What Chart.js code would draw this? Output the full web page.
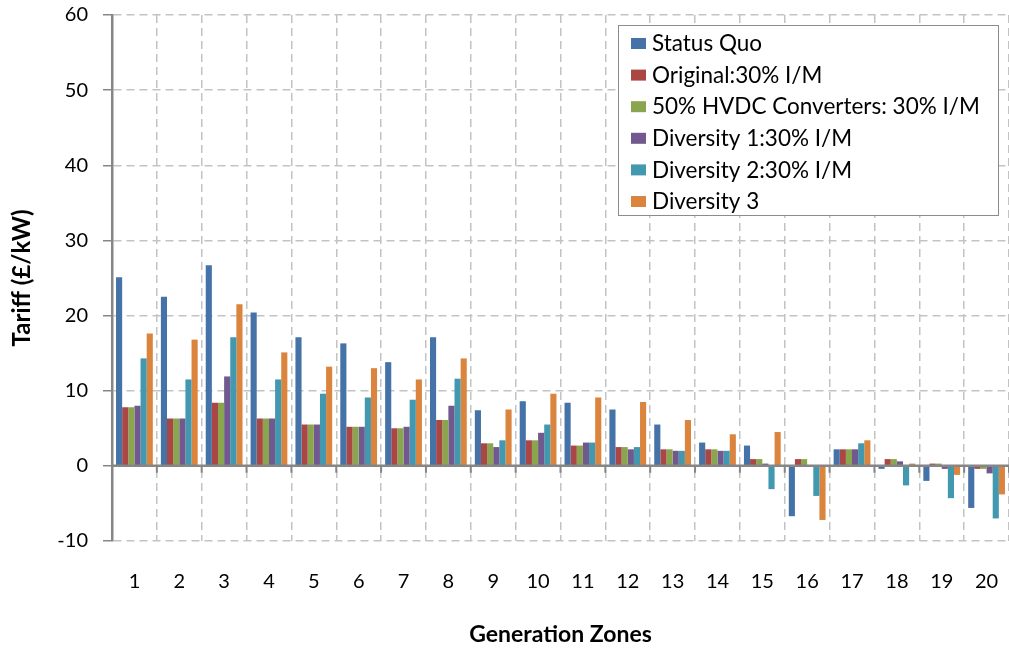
<!DOCTYPE html>
<html>
<head>
<meta charset="utf-8">
<script src="https://cdn.jsdelivr.net/npm/chart.js@4.4.1/dist/chart.umd.min.js"></script>
<style>
  body { margin: 0; background: #fff; }
  canvas { display: block; }
</style>
</head>
<body>
<canvas id="tariffChart" width="1009" height="648"></canvas>
<script>
// ------
// data
// ------
const zones = ['1', '2', '3', '4', '5', '6', '7', '8', '9', '10',
  '11', '12', '13', '14', '15', '16', '17', '18', '19', '20'];
const statusQuo = [25.1, 22.5, 26.7, 20.4, 17.1, 16.3, 13.8, 17.1, 7.4, 8.6, 8.4, 7.5, 5.5, 3.1, 2.7, -6.7, 2.2, -0.4, -2.0, -5.6];
const original = [7.8, 6.3, 8.4, 6.3, 5.5, 5.2, 5.0, 6.1, 3.0, 3.4, 2.7, 2.5, 2.2, 2.2, 0.9, 0.9, 2.2, 0.9, 0.3, -0.4];
const hvdc50 = [7.8, 6.3, 8.4, 6.3, 5.5, 5.2, 5.0, 6.1, 3.0, 3.4, 2.7, 2.5, 2.2, 2.2, 0.9, 0.9, 2.2, 0.9, 0.3, -0.4];
const diversity1 = [8.0, 6.3, 11.9, 6.3, 5.5, 5.2, 5.2, 8.0, 2.5, 4.4, 3.1, 2.2, 2.0, 2.0, 0.3, 0, 2.2, 0.6, -0.4, -1.0];
const diversity2 = [14.3, 11.5, 17.1, 11.5, 9.6, 9.1, 8.8, 11.6, 3.4, 5.5, 3.1, 2.5, 2.0, 2.0, -3.1, -4.0, 3.0, -2.6, -4.3, -7.0];
const diversity3 = [17.6, 16.8, 21.5, 15.1, 13.2, 13.0, 11.5, 14.3, 7.5, 9.6, 9.1, 8.5, 6.1, 4.2, 4.5, -7.2, 3.4, 0.3, -1.2, -3.8];

const FONT = 'Lato, "Liberation Sans", sans-serif';
const AXIS_GREY = '#868686';

// zero line + small ticks under it, drawn over the bars like excel does
const zeroLine = {
  id: 'zeroLine',
  afterDatasetsDraw(chart) {
    const { ctx, chartArea, scales } = chart;
    const y0 = scales.y.getPixelForValue(0);
    ctx.save();
    ctx.strokeStyle = AXIS_GREY;
    ctx.lineWidth = 2.5;
    ctx.beginPath();
    ctx.moveTo(chartArea.left, y0);
    ctx.lineTo(chartArea.right, y0);
    ctx.stroke();
    ctx.lineWidth = 2;
    ctx.beginPath();
    for (let i = 0; i < zones.length; i++) {
      const x = (scales.x.getPixelForValue(i) + scales.x.getPixelForValue(i + 1)) / 2;
      ctx.moveTo(x, y0);
      ctx.lineTo(x, y0 + 7);
    }
    ctx.stroke();
    ctx.restore();
  }
};

// boxed legend inside the plot, top right
const boxLegend = {
  id: 'boxLegend',
  afterDraw(chart) {
    const { ctx, chartArea } = chart;
    const w = 380, h = 190;
    const left = chartArea.right - 11 - w;
    const top = chartArea.top + 10;
    ctx.save();
    ctx.fillStyle = '#fff';
    ctx.fillRect(left, top, w, h);
    ctx.strokeStyle = '#8c8c8c';
    ctx.lineWidth = 1;
    ctx.strokeRect(left + 0.5, top + 0.5, w, h);
    ctx.font = '22.5px ' + FONT;
    ctx.textBaseline = 'middle';
    chart.data.datasets.forEach((ds, i) => {
      const cy = top + 19 + i * 31.6;
      ctx.fillStyle = ds.backgroundColor;
      ctx.fillRect(left + 13, cy - 6, 15, 11);
      ctx.fillStyle = '#000';
      ctx.fillText(ds.label, left + 34, cy);
    });
    ctx.restore();
  }
};

const el = document.getElementById('tariffChart');
new Chart(el, {
  type: 'bar',
  data: {
    labels: zones,
    datasets: [
      { label: 'Status Quo', data: statusQuo, backgroundColor: '#4572A7' },
      { label: 'Original:30% I/M', data: original, backgroundColor: '#AA4643' },
      { label: '50% HVDC Converters: 30% I/M', data: hvdc50, backgroundColor: '#89A54E' },
      { label: 'Diversity 1:30% I/M', data: diversity1, backgroundColor: '#71588F' },
      { label: 'Diversity 2:30% I/M', data: diversity2, backgroundColor: '#4198AF' },
      { label: 'Diversity 3', data: diversity3, backgroundColor: '#DB843D' },
    ],
  },
  options: {
    responsive: false,
    animation: false,
    devicePixelRatio: 1,
    layout: {
      padding: { top: 15, right: 0, left: 0, bottom: 0 },
    },
    datasets: {
      bar: { barPercentage: 1, categoryPercentage: 0.82, borderWidth: 0 },
    },
    plugins: {
      legend: { display: false },
      tooltip: { enabled: false },
    },
    scales: {
      x: {
        grid: { color: '#c3c3c3', lineWidth: 1.5, drawTicks: true, tickLength: 29, tickColor: 'rgba(0,0,0,0)', offset: true },
        border: { display: false, dash: [8, 5] },
        ticks: { color: '#000', font: { family: FONT, size: 20 }, padding: 0, maxRotation: 0 },
        title: {
          display: true,
          text: 'Generation Zones',
          color: '#000',
          font: { family: FONT, size: 23, weight: 'bold' },
          padding: { bottom: 0 },
        },
        afterFit(scale) {
          scale.height = 107;
          scale.paddingRight = 0;
        },
      },
      y: {
        min: -10,
        max: 60,
        grid: {
          color: '#c3c3c3',
          lineWidth: 1.5,
          tickLength: 9,
          tickColor: AXIS_GREY,
        },
        border: { display: true, color: AXIS_GREY, width: 2.5, dash: [8, 5] },
        ticks: { stepSize: 10, color: '#000', font: { family: FONT, size: 20 }, padding: 15 },
        title: {
          display: true,
          text: 'Tariff (£/kW)',
          color: '#000',
          font: { family: FONT, size: 24, weight: 'bold' },
          padding: { top: 8 },
        },
        afterFit(scale) {
          scale.width = 112;
          scale.paddingTop = 0;
          scale.paddingBottom = 0;
        },
      },
    },
  },
  plugins: [zeroLine, boxLegend],
});
</script>
</body>
</html>
